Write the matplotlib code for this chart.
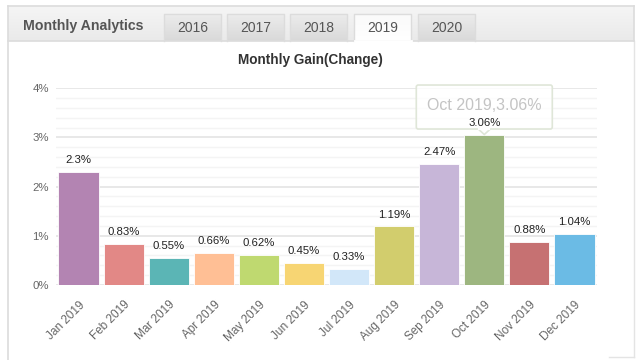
import matplotlib
matplotlib.use("Agg")
import matplotlib.pyplot as plt
from matplotlib.patches import Polygon, FancyBboxPatch
from matplotlib.colors import LinearSegmentedColormap
import numpy as np

months = ["Jan 2019", "Feb 2019", "Mar 2019", "Apr 2019", "May 2019", "Jun 2019",
          "Jul 2019", "Aug 2019", "Sep 2019", "Oct 2019", "Nov 2019", "Dec 2019"]
gains = [2.3, 0.83, 0.55, 0.66, 0.62, 0.45, 0.33, 1.19, 2.47, 3.06, 0.88, 1.04]
labels = ["2.3%", "0.83%", "0.55%", "0.66%", "0.62%", "0.45%", "0.33%",
          "1.19%", "2.47%", "3.06%", "0.88%", "1.04%"]
colors = ["#b384b2", "#e28886", "#5bb5b5", "#ffbf95", "#bfd970", "#f7d573",
          "#d2e7f9", "#d2cd6d", "#c7b6d8", "#9db680", "#c67172", "#6bbbe5"]
yticks = [0, 1, 2, 3, 4]
ytick_labels = ["0%", "1%", "2%", "3%", "4%"]
tabs = ["2016", "2017", "2018", "2019", "2020"]
active_tab = "2019"
tooltip_idx = 9

W, H = 636, 360
fig = plt.figure(figsize=(W / 100, H / 100), dpi=100)
fig.patch.set_facecolor("white")

# background panel in pixel coordinates
bg = fig.add_axes([0, 0, 1, 1], zorder=0)
bg.set_xlim(0, W)
bg.set_ylim(H, 0)
bg.axis("off")

border = "#dcdcdc"
grad = np.linspace(0, 1, 50).reshape(-1, 1)
hcmap = LinearSegmentedColormap.from_list("h", ["#f5f5f5", "#eaeaea"])
bg.imshow(grad, cmap=hcmap, extent=(8, 634, 41, 6), aspect="auto", zorder=1)
bg.plot([8, 634], [6, 6], color=border, lw=1.2, zorder=3)
bg.plot([8, 8], [6, 360], color=border, lw=1.2, zorder=3)
bg.plot([634, 634], [6, 41], color=border, lw=1.2, zorder=3)
bg.plot([634, 634], [41, 357], color="#e4e4e4", lw=1, zorder=3)
bg.plot([609, 634], [357, 357], color="#e4e4e4", lw=1, zorder=3)
bg.plot([8, 634], [41, 41], color=border, lw=1.2, zorder=3)

bg.text(23, 26, "Monthly Analytics", fontsize=10.2, fontweight="bold",
        family="Liberation Sans", color="#555555", va="center", ha="left", zorder=5)

tcmap = LinearSegmentedColormap.from_list("t", ["#ececec", "#d9d9d9"])
acmap = LinearSegmentedColormap.from_list("a", ["#fafafa", "#ffffff"])
tab_x = [164, 227, 290, 354, 418]
tab_w = 57
for tx, name in zip(tab_x, tabs):
    active = name == active_tab
    bg.imshow(grad, cmap=acmap if active else tcmap,
              extent=(tx, tx + tab_w, 42 if active else 41, 14), aspect="auto", zorder=2)
    bg.plot([tx, tx, tx + tab_w, tx + tab_w], [41, 14, 14, 41], color=border, lw=1, zorder=4)
    if active:
        bg.plot([tx + 0.5, tx + tab_w - 0.5], [41, 41], color="white", lw=2, zorder=4)
    bg.text(tx + tab_w / 2, 28, name, fontsize=10, family="Liberation Sans",
            color="#555555", ha="center", va="center", zorder=5)

bg.text(310, 60, "Monthly Gain(Change)", fontsize=9.8, fontweight="bold",
        family="Liberation Sans", color="#333333", ha="center", va="center", zorder=5)

# main chart
left, right, top, bottom = 56, 597, 88.3, 285
ax = fig.add_axes([left / W, 1 - bottom / H, (right - left) / W, (bottom - top) / H], zorder=2)
ax.patch.set_alpha(0)
x = np.arange(len(months))
ax.bar(x, gains, width=0.89, color=colors, edgecolor="white", linewidth=0.6, zorder=3)
ax.set_xlim(-0.5, len(months) - 0.5)
ax.set_ylim(0, 4)
ax.set_yticks(yticks)
ax.set_yticklabels(ytick_labels, fontsize=8.2, color="#666666", family="Liberation Sans")
ax.set_yticks(np.arange(0, 4.01, 0.2), minor=True)
ax.grid(which="major", axis="y", color="#e6e6e6", lw=1.3, zorder=0)
ax.grid(which="minor", axis="y", color="#f4f4f4", lw=1, zorder=0)
ax.set_xticks(x)
ax.set_xticklabels(months, rotation=45, ha="right", rotation_mode="anchor",
                   fontsize=8.5, color="#666666", family="Liberation Sans")
ax.tick_params(axis="both", which="both", length=0)
ax.tick_params(axis="x", pad=10)
ax.tick_params(axis="y", pad=5)
for s in ax.spines.values():
    s.set_visible(False)

for xi, g, lab in zip(x, gains, labels):
    if xi == tooltip_idx:
        continue
    ax.annotate(lab, (xi, g), xytext=(0, 5), textcoords="offset points",
                ha="center", va="bottom", fontsize=8.2, color="#222222",
                family="Liberation Sans", zorder=6)

# tooltip overlay
ov = fig.add_axes([0, 0, 1, 1], zorder=5)
ov.set_xlim(0, W)
ov.set_ylim(H, 0)
ov.axis("off")
ov.patch.set_alpha(0)
fig.canvas.draw()
px, py = ax.transData.transform((x[tooltip_idx], gains[tooltip_idx]))
tipx, tipy = px, H - py
bw, bh = 136, 44
bx0, by1 = tipx - bw / 2, tipy - 5.5
by0 = by1 - bh
box = FancyBboxPatch((bx0, by0), bw, bh, boxstyle="round,pad=0,rounding_size=2",
                     facecolor=(1, 1, 1, 0.8), edgecolor="#dfe6d8", lw=1.2, zorder=1)
ov.add_patch(box)
tri = Polygon([[tipx - 6, by1], [tipx, tipy], [tipx + 6, by1]], closed=False,
              facecolor=(1, 1, 1, 0.8), edgecolor="#dfe6d8", lw=1.2, zorder=2)
ov.add_patch(tri)
ov.plot([tipx - 5, tipx + 5], [by1, by1], color=(1, 1, 1), lw=1.6, zorder=3)
ov.text(tipx, by0 + 20, f"{months[tooltip_idx]},{labels[tooltip_idx]}", fontsize=11.5,
        family="Liberation Sans", color="#c4c4c4", ha="center", va="center", zorder=4)
ov.annotate(labels[tooltip_idx], (tipx, tipy), xytext=(0, 5 * 100 / 72), textcoords="offset pixels",
            ha="center", va="bottom", fontsize=8.2, color="#222222", family="Liberation Sans", zorder=5)

fig.savefig("out.png", dpi=100)
